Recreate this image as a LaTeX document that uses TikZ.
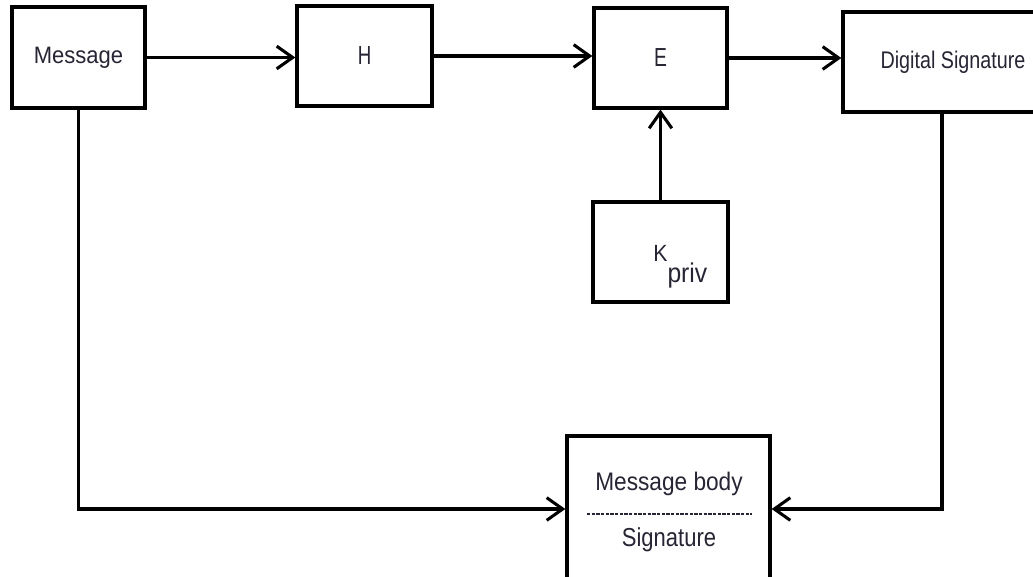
\documentclass[tikz,border=0pt]{standalone}
\usepackage{fontspec}
\setmainfont{Liberation Sans}
\usetikzlibrary{arrows.meta}
\definecolor{txt}{RGB}{40,36,52}
\newcommand\tallt[2]{\scalebox{1}[#1]{#2}}
\begin{document}
\begin{tikzpicture}[x=0.75pt,y=-0.75pt,
  box/.style={draw=black, line width=2.5pt, fill=white, text=txt, inner sep=0pt},
  conn/.style={line width=2.3pt, -{Straight Barb[length=12pt,width=17pt]}},
  lab/.style={text=txt, inner sep=0pt}]
\useasboundingbox (0,0) rectangle (1033,577);
\clip (0,0) rectangle (1033,577);
\fill[white] (0,0) rectangle (1033,577);
% boxes
\node[box, minimum width=133*0.75pt, minimum height=101*0.75pt, font=\fontsize{16.5}{20}\selectfont] (msg) at (78.5,57.5) {\tallt{1.08}{Message}};
\node[box, minimum width=135*0.75pt, minimum height=100*0.75pt, font=\fontsize{14}{17}\selectfont] (h) at (364.5,56) {\raisebox{-2.5pt}{\tallt{1.4}{H}}};
\node[box, minimum width=133*0.75pt, minimum height=100*0.75pt, font=\fontsize{14.5}{17}\selectfont] (e) at (660.5,58) {\raisebox{-3.5pt}{\tallt{1.35}{E}}};
\node[box, minimum width=220*0.75pt, minimum height=100*0.75pt, font=\fontsize{14.8}{18}\selectfont] (ds) at (953,62) {\tallt{1.22}{Digital Signature}};
\node[box, minimum width=135*0.75pt, minimum height=100*0.75pt] (kp) at (660.5,252) {};
\node[lab, anchor=base west] (kt) at (653,262) {\fontsize{16}{19}\selectfont\tallt{1.1}{K}\raisebox{-15.5pt}{\fontsize{18.5}{21}\selectfont\tallt{1.1}{priv}}};
\node[box, minimum width=203*0.75pt, minimum height=146*0.75pt] (out) at (668.5,509) {};
\node[lab, font=\fontsize{17}{20}\selectfont] (mb) at (669,484) {\tallt{1.12}{Message body}};
\node[lab, font=\fontsize{16.5}{20}\selectfont] (sg) at (669,540) {\tallt{1.18}{Signature}};
\draw[line width=0.8pt, draw=txt, dash pattern=on 2.4pt off 1.1pt] (587,514) -- (752,514);
% connectors
\draw[conn] (msg.east) -- (msg.east -| h.west);
\draw[conn] (h.east) -- (h.east -| e.west);
\draw[conn] (e.east) -- (e.east -| ds.west);
\draw[conn] (kp.north) -- (e.south);
\draw[conn] (msg.south) |- (out.west);
\draw[conn] ([xshift=-8.25pt]ds.south) |- (out.east);
\end{tikzpicture}
\end{document}
